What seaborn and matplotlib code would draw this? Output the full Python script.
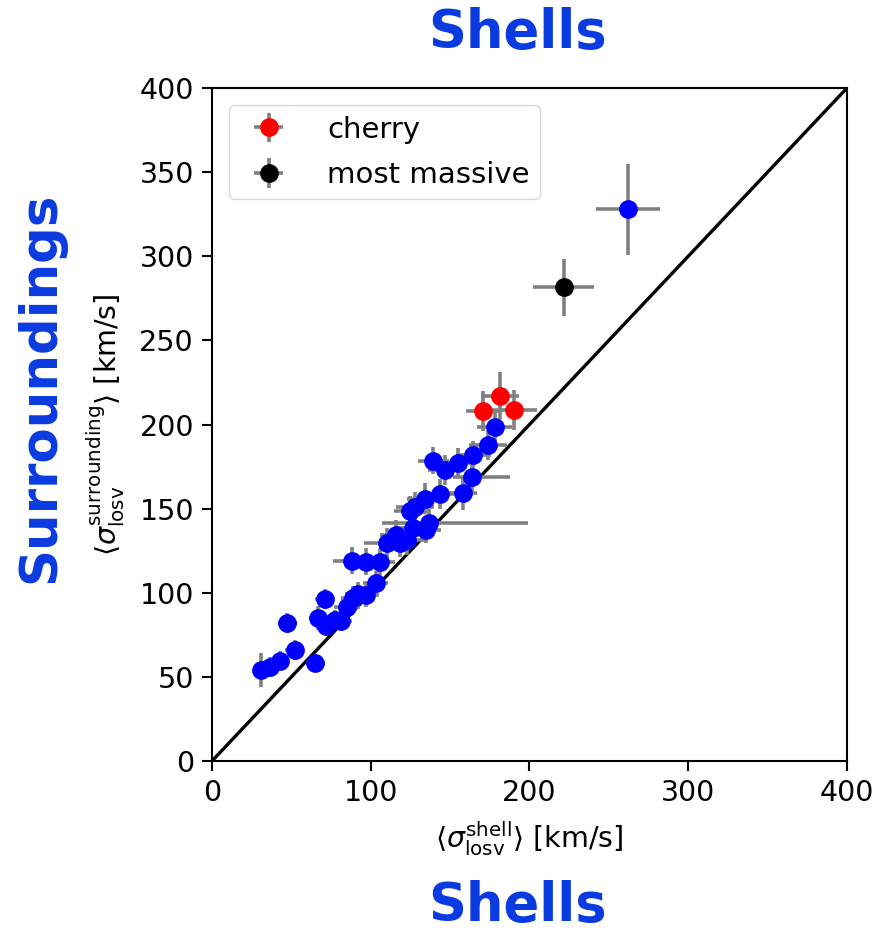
import numpy as np
import matplotlib
matplotlib.use("Agg")
import matplotlib.pyplot as plt
import seaborn as sns

# ---- data ----
blue_x = [31, 36.5, 43, 47.5, 52, 65, 67, 71, 72, 77.5, 81, 85, 89, 92, 97, 103,
          88, 97, 106, 110, 116, 118.5, 123, 124.7, 126.5, 128, 134, 135, 137,
          139.5, 143.5, 147, 155, 158, 163.5, 164.5, 174, 178, 262]
blue_y = [54, 56, 59.5, 82, 66, 58.5, 85, 96.5, 80.5, 84, 83, 91.5, 97, 99.5, 98.7, 106,
          119, 118.5, 118.5, 129.5, 134.5, 129.5, 131.5, 148.5, 138.5, 151, 156, 137.5, 141.5,
          178.5, 158.5, 173, 177, 159, 169, 182, 188, 198.5, 328]
blue_xerr_lo = [5, 5, 5, 6, 6, 6, 6, 6, 6, 6, 7, 8, 8, 8, 8, 8,
                12, 9, 9, 14, 10, 10, 11, 10, 9, 12, 11, 9, 30,
                10, 10, 11, 11, 9, 12, 11, 12, 11, 20]
blue_xerr_hi = [5, 5, 5, 6, 6, 6, 6, 6, 6, 6, 7, 8, 8, 8, 8, 8,
                12, 9, 9, 14, 10, 10, 11, 10, 9, 12, 11, 9, 62,
                10, 10, 11, 11, 9, 24, 11, 12, 11, 20]
blue_yerr = [10, 6, 6, 6, 6, 5, 7, 6, 6, 6, 6, 7, 7, 7, 7, 7,
             8, 8, 8, 9, 9, 8, 9, 9, 8, 9, 9, 8, 8,
             8, 9, 9, 9, 10, 9, 8, 9, 9, 27]

cherry_x = [171, 181.5, 190.5]
cherry_y = [208, 217, 208.5]
cherry_xerr = [11, 12, 14]
cherry_yerr = [12, 14, 12]

massive_x = [221.5]
massive_y = [281.5]
massive_xerr = [19]
massive_yerr = [17]

diag = [0, 400]
x_ticks = [0, 100, 200, 300, 400]
y_ticks = [0, 50, 100, 150, 200, 250, 300, 350, 400]

# ---- style ----
sns.set_style("ticks")
plt.rcParams['font.family'] = ['DejaVu Sans']
plt.rcParams['text.color'] = 'black'
plt.rcParams['axes.labelcolor'] = 'black'
plt.rcParams['xtick.color'] = 'black'
plt.rcParams['ytick.color'] = 'black'

fig = plt.figure(figsize=(8.79, 9.32), dpi=100)
ax = fig.add_axes([212/879, 1-761/932, 635/879, 673/932])

sns.lineplot(x=diag, y=diag, color='black', lw=2.4, ax=ax, zorder=1)

eb = dict(fmt='o', ecolor='#808080', elinewidth=2.6, capsize=6.0, capthick=2.6,
          markersize=13.5, markeredgewidth=0)
ax.errorbar(blue_x, blue_y, xerr=[blue_xerr_lo, blue_xerr_hi], yerr=blue_yerr,
            color='#0000ff', zorder=2, **eb)
ax.errorbar(cherry_x, cherry_y, xerr=cherry_xerr, yerr=cherry_yerr,
            color='#ff0000', label='cherry', zorder=3, **eb)
ax.errorbar(massive_x, massive_y, xerr=massive_xerr, yerr=massive_yerr,
            color='black', label='most massive', zorder=3, **eb)

ax.set_xlim(0, 400)
ax.set_ylim(0, 400)
ax.set_xticks(x_ticks)
ax.set_yticks(y_ticks)
ax.tick_params(labelsize=20.5, length=7, width=1.5, direction='out', pad=6)
for s in ax.spines.values():
    s.set_linewidth(1.5)
    s.set_color('black')

ax.set_xlabel(r'$\langle\sigma_{\rm losv}^{\rm shell}\rangle$ [km/s]', fontsize=20.5, labelpad=9)
ax.set_ylabel(r'$\langle\sigma_{\rm losv}^{\rm surrounding}\rangle$ [km/s]', fontsize=20.5, labelpad=9)

leg = ax.legend(loc='upper left', fontsize=21, frameon=True, borderpad=0.35,
                handletextpad=1.0, labelspacing=0.6, borderaxespad=0.6)

blue_txt = '#0a3be0'
fig.text(518/879, 1-33/932, 'Shells', color=blue_txt, fontsize=38, fontweight='bold',
         ha='center', va='center')
fig.text(518/879, 1-906/932, 'Shells', color=blue_txt, fontsize=38, fontweight='bold',
         ha='center', va='center')
fig.text(40/879, 1-387/932, 'Surroundings', color=blue_txt, fontsize=37, fontweight='bold',
         ha='center', va='center', rotation=90)

fig.savefig('out.png', dpi=100)
